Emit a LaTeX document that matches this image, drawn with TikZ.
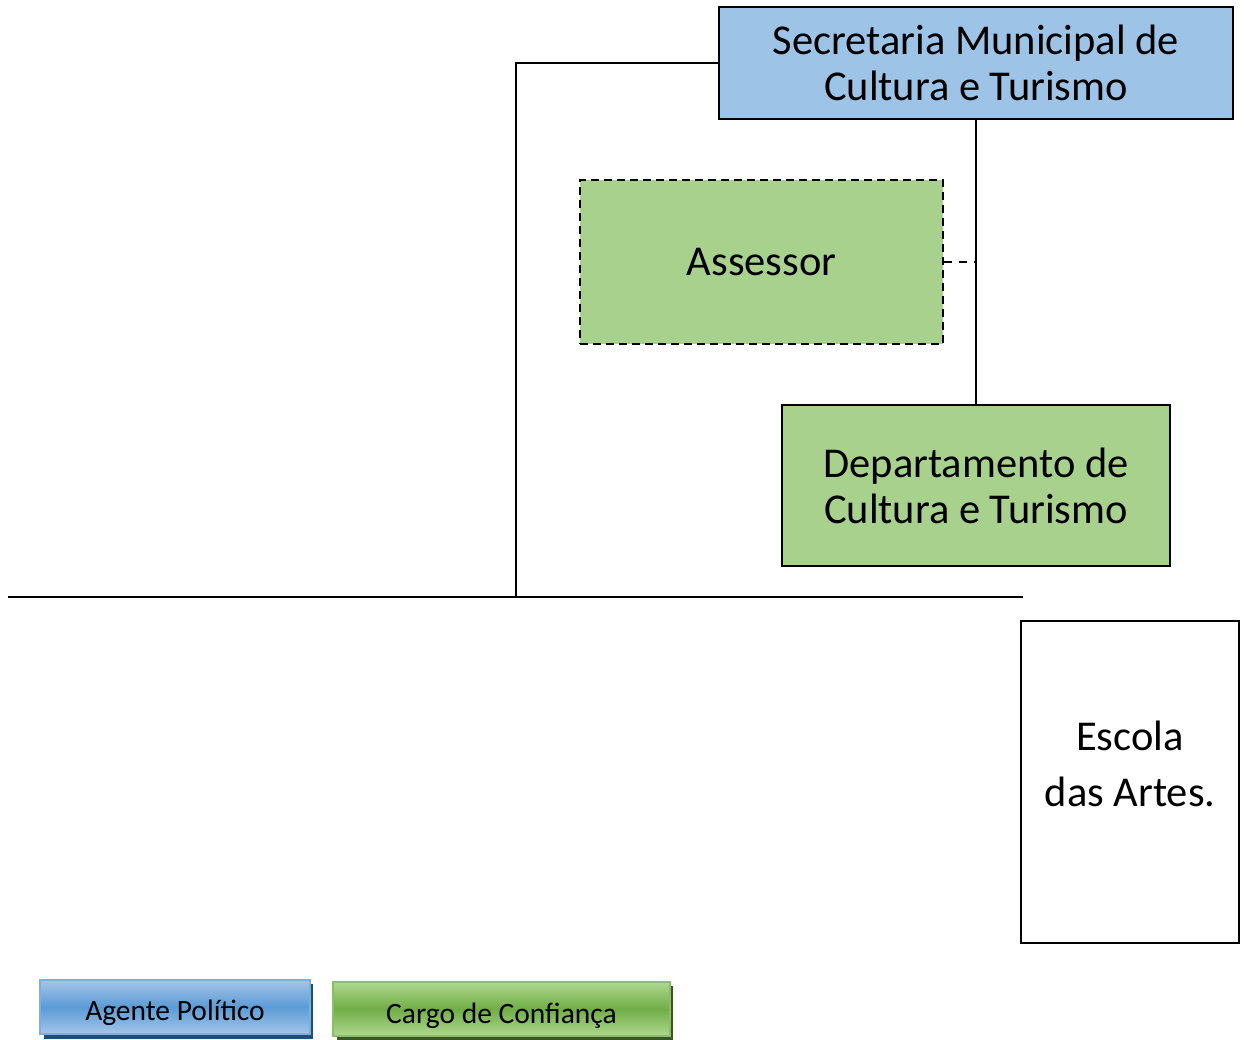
\documentclass[tikz,border=0pt]{standalone}
\usepackage{fontspec}
\setmainfont{Carlito}
\begin{document}
\begin{tikzpicture}[x=1pt,y=-1pt,
  box/.style={draw=black,line width=1.6pt,inner sep=0pt,align=center,font=\fontsize{42.5}{46}\selectfont},
  legbox/.style={draw,line width=1.2pt,inner sep=0pt,align=center,font=\fontsize{29.5}{32}\selectfont,text height=31pt,text depth=4pt},
  conn/.style={line width=1.6pt}]
\useasboundingbox (0,0) rectangle (1247,1040);
\definecolor{secblue}{HTML}{9DC3E6}
\definecolor{cargogreen}{HTML}{A9D18E}
\definecolor{legblueA}{HTML}{A4C6EA}
\definecolor{legblueB}{HTML}{5B9BD5}
\definecolor{legblueS}{HTML}{1F4E79}
\definecolor{leggreenA}{HTML}{B0D88F}
\definecolor{leggreenB}{HTML}{70AD47}
\definecolor{leggreenS}{HTML}{385723}

\node[box,fill=secblue,minimum width=514pt,minimum height=112pt] (sec) at (976,63) {Secretaria Municipal de\\Cultura e Turismo};
\node[box,fill=cargogreen,dashed,dash pattern=on 8pt off 5pt,minimum width=363pt,minimum height=164pt] (ass) at (761.5,262) {Assessor};
\node[box,fill=cargogreen,minimum width=388pt,minimum height=161pt] (dep) at (976,485.5) {Departamento de\\Cultura e Turismo};
\node[box,line width=1.4pt,minimum width=218pt,minimum height=322pt] (esc) at (1130,782) {};
\node[inner sep=0pt,align=center,font=\fontsize{42.5}{56}\selectfont] (esct) at (1130,764) {Escola\\das Artes.};

\coordinate (cL) at (8,597);
\coordinate (cR) at (1023,597);
\coordinate (cM) at (516,597);
\coordinate (cT) at (516,63);
\coordinate (cA) at (976,262);

\draw[conn] (sec.south) -- (dep.north);
\draw[conn] (sec.west) -- (cT) -- (cM);
\draw[conn] (cL) -- (cR);
\draw[conn,dashed,dash pattern=on 8pt off 7pt] (ass.east) -- (cA);

% legend
\fill[legblueS] (44,984) rectangle (313,1039);
\node[legbox,draw=legblueB!80!white,top color=legblueA,bottom color=legblueA,middle color=legblueB,minimum width=270pt,minimum height=54pt] (lpol) at (175,1007) {Agente Político};
\fill[leggreenS] (337,986) rectangle (673,1040);
\node[legbox,draw=leggreenB!80!white,top color=leggreenA,bottom color=leggreenA,middle color=leggreenB,minimum width=337pt,minimum height=54pt,text height=33pt] (lcar) at (501.5,1009) {Cargo de Confiança};
\end{tikzpicture}
\end{document}
